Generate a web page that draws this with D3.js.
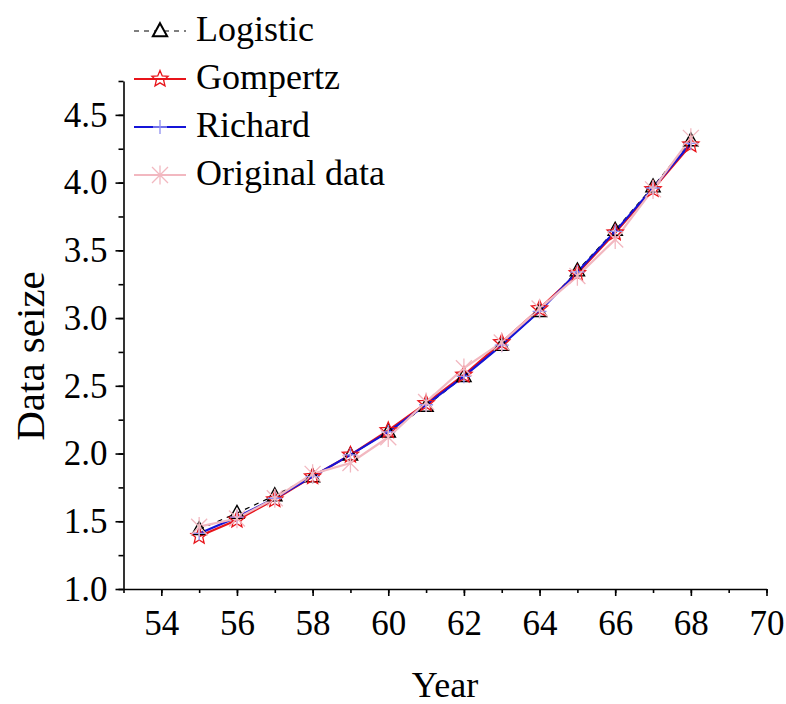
<!DOCTYPE html>
<meta charset="utf-8">
<style>
body { margin: 0; background: #fff; }
text { font-family: "Liberation Serif", "Times New Roman", serif; fill: #000; }
.axis path, .axis line { stroke: #000; stroke-width: 1.6px; }
.axis text { font-size: 35px; font-family: "Liberation Serif", serif; }
</style>
<body>
<svg width="786" height="704"></svg>
<script src="https://d3js.org/d3.v7.min.js"></script>
<script>

// data
var years    = [55, 56, 57, 58, 59, 60, 61, 62, 63, 64, 65, 66, 67, 68];
var logistic = [1.44, 1.56, 1.69, 1.83, 1.99, 2.16, 2.35, 2.57, 2.80, 3.05, 3.35, 3.65, 3.97, 4.31];
var gompertz = [1.39, 1.51, 1.66, 1.83, 1.99, 2.17, 2.37, 2.58, 2.82, 3.07, 3.33, 3.63, 3.95, 4.28];
var richard  = [1.41, 1.53, 1.67, 1.83, 1.99, 2.16, 2.36, 2.57, 2.80, 3.05, 3.34, 3.64, 3.96, 4.29];
var original = [1.46, 1.52, 1.67, 1.85, 1.93, 2.12, 2.38, 2.63, 2.82, 3.07, 3.31, 3.58, 3.95, 4.33];

var xTicks = [54, 56, 58, 60, 62, 64, 66, 68, 70];
var yTicks = [1.0, 1.5, 2.0, 2.5, 3.0, 3.5, 4.0, 4.5];
var legendNames = ["Logistic", "Gompertz", "Richard", "Original data"];

var svg = d3.select("svg");

// plot area
var x = d3.scaleLinear().domain([53, 70]).range([123.5, 766.5]);
var y = d3.scaleLinear().domain([1, 4.75]).range([589, 81]);

// minor ticks first
svg.append("g")
    .attr("class", "axis")
    .attr("transform", "translate(0,589)")
    .call(d3.axisBottom(x).tickValues(d3.range(53, 71, 1)).tickSize(4).tickFormat(""))
    .select(".domain").remove();
svg.append("g")
    .attr("class", "axis")
    .attr("transform", "translate(123.5,0)")
    .call(d3.axisLeft(y).tickValues(d3.range(1, 4.76, 0.25)).tickSize(5).tickFormat(""))
    .select(".domain").remove();

// major ticks
var xAxis = svg.append("g")
    .attr("class", "axis")
    .attr("transform", "translate(0,589)")
    .call(d3.axisBottom(x).tickValues(xTicks).tickSize(7).tickSizeOuter(0).tickPadding(14).tickFormat(d3.format("d")));
xAxis.selectAll("text").attr("dy", "0.71em");

var yAxis = svg.append("g")
    .attr("class", "axis")
    .attr("transform", "translate(123.5,0)")
    .call(d3.axisLeft(y).tickValues(yTicks).tickSize(8).tickSizeOuter(0).tickPadding(8).tickFormat(d3.format(".1f")));

// axis titles
svg.append("text")
    .attr("x", 445).attr("y", 697)
    .attr("text-anchor", "middle")
    .style("font-size", "36px")
    .text("Year");

svg.append("text")
    .attr("transform", "translate(44,356) rotate(-90)")
    .attr("text-anchor", "middle")
    .style("font-size", "41px")
    .text("Data seize");

// symbol paths
function tri(s) {
  return "M0," + (-s * 0.6) + "L" + (s * 0.55) + "," + (s * 0.4) + "L" + (-s * 0.55) + "," + (s * 0.4) + "Z";
}
function star(r) {
  var p = [];
  for (var i = 0; i < 10; i++) {
    var a = -Math.PI / 2 + i * Math.PI / 5;
    var rr = i % 2 ? r * 0.45 : r;
    p.push([rr * Math.cos(a), rr * Math.sin(a)]);
  }
  return "M" + p.join("L") + "Z";
}
function plus(s) {
  return "M" + (-s) + ",0H" + s + "M0," + (-s) + "V" + s;
}
function asterisk(s) {
  return "M" + (-s) + "," + (-s) + "L" + s + "," + s + "M" + (-s) + "," + s + "L" + s + "," + (-s) +
         "M0," + (-s * 1.2) + "V" + (s * 1.2);
}

var series = [
  {name: "Logistic", values: logistic, color: "#000", width: 1.2, dash: "5,5", sym: tri(13), symStroke: "#000", symWidth: 1.4},
  {name: "Gompertz", values: gompertz, color: "#e8141a", width: 2.2, dash: null, sym: star(8.5), symStroke: "#e8141a", symWidth: 1.3},
  {name: "Richard", values: richard, color: "#1414d8", width: 2.2, dash: null, sym: plus(7), symStroke: "#9090f0", symWidth: 1.3},
  {name: "Original data", values: original, color: "#f2b8c0", width: 2.2, dash: null, sym: asterisk(8), symStroke: "#f2b8c0", symWidth: 1.3}
];

var line = d3.line()
    .x(function(d, i) { return x(years[i]); })
    .y(function(d) { return y(d); });

series.forEach(function(s) {
  svg.append("path")
      .datum(s.values)
      .attr("fill", "none")
      .attr("stroke", s.color)
      .attr("stroke-width", s.width)
      .attr("stroke-dasharray", s.dash)
      .attr("d", line);
});

series.forEach(function(s) {
  svg.append("g").selectAll("path")
    .data(s.values)
    .enter().append("path")
      .attr("transform", function(d, i) { return "translate(" + x(years[i]) + "," + y(d) + ")"; })
      .attr("d", s.sym)
      .attr("fill", "none")
      .attr("stroke", s.symStroke)
      .attr("stroke-width", s.symWidth);
});

// legend
var legend = svg.append("g").selectAll("g")
    .data(series)
    .enter().append("g")
      .attr("transform", function(d, i) { return "translate(134," + (31 + i * 48) + ")"; });

legend.append("line")
    .attr("x1", 0).attr("x2", 52)
    .attr("stroke", function(d) { return d.color; })
    .attr("stroke-width", function(d) { return d.width; })
    .attr("stroke-dasharray", function(d) { return d.dash; });

legend.append("path")
    .attr("transform", "translate(26,0)")
    .attr("d", function(d) { return d.sym; })
    .attr("fill", function(d, i) { return i === 0 ? "#fff" : "none"; })
    .attr("stroke", function(d) { return d.symStroke; })
    .attr("stroke-width", function(d, i) { return i === 0 ? 2 : d.symWidth; });

legend.append("text")
    .attr("x", 62).attr("y", 10)
    .style("font-size", "36px")
    .text(function(d, i) { return legendNames[i]; });

</script>
</body>
